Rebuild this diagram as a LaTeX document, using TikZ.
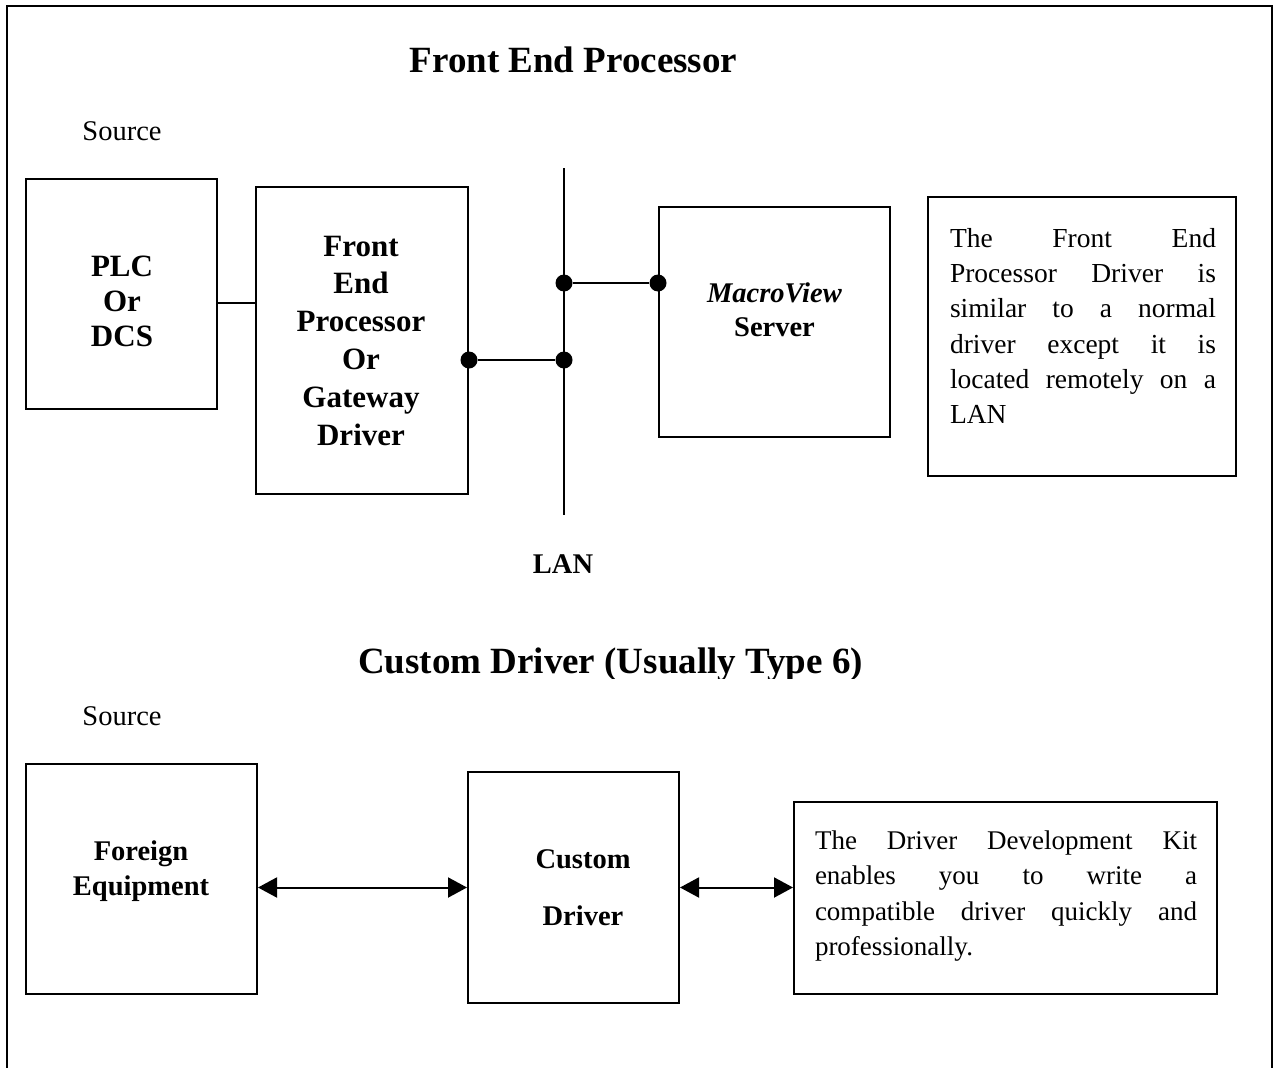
\documentclass[tikz,border=0pt]{standalone}
\usepackage{fontspec}
\setmainfont{Liberation Serif}
\usetikzlibrary{arrows.meta}

% a full-width line whose words are spread out to both edges
\newcommand{\spreadline}[2]{\leavevmode\hbox to #1{#2}}

\begin{document}
\begin{tikzpicture}[x=1pt,y=-1pt,
  box/.style={draw, line width=2pt, rectangle, inner sep=0pt},
  wire/.style={line width=2pt},
  dot/.style={circle, fill, inner sep=0pt, minimum size=17pt},
  both/.style={wire, {Triangle[length=19pt,width=20pt]}-{Triangle[length=19pt,width=20pt]}},
  heading/.style={font=\fontsize{37}{44}\selectfont\bfseries, inner sep=0pt, anchor=base},
  caption/.style={font=\fontsize{28.5}{35}\selectfont, inner sep=0pt, anchor=base},
  boxtext/.style={font=\fontsize{31}{34.5}\selectfont\bfseries, inner sep=0pt, align=center},
  boxtextsmall/.style={font=\fontsize{28.5}{35}\selectfont\bfseries, inner sep=0pt, align=center},
  notetext/.style={font=\fontsize{27.5}{35.2}\selectfont, inner sep=0pt, align=left}
]
\useasboundingbox (0,0) rectangle (1275,1068);

% outer frame, open at the bottom
\draw[wire] (7,1068) -- (7,6) -- (1272,6) -- (1272,1068);

% ---------- Front End Processor ----------
\node[heading] (title1) at (573.5,72) {Front End Processor};
\node[caption] (src1) at (122,140.5) {Source};

\node[box, minimum width=191pt, minimum height=230pt] (plc) at (121.5,294) {};
\node[boxtext, font=\fontsize{31}{35}\selectfont\bfseries] (plctext) at (122,301) {PLC\\Or\\DCS};

\node[box, minimum width=212pt, minimum height=307pt] (fep) at (362,340.5) {};
\node[boxtext, font=\fontsize{31}{37.8}\selectfont\bfseries] (feptext) at (361,340.5)
  {Front\\End\\Processor\\Or\\Gateway\\Driver};

\node[box, minimum width=231pt, minimum height=230pt] (server) at (774.5,322) {};
\node[boxtextsmall, font=\fontsize{28.5}{34}\selectfont\bfseries] (servertext) at (774.5,310)
  {\textit{MacroView}\\Server};

\node[box, minimum width=308pt, minimum height=279pt] (note1) at (1082,336.5) {};
\node[notetext, text width=266pt] (note1text) at (1083,326) {%
  \spreadline{266pt}{The\hfill Front\hfill End}\\
  \spreadline{266pt}{Processor\hfill Driver\hfill is}\\
  \spreadline{266pt}{similar\hfill to\hfill a\hfill normal}\\
  \spreadline{266pt}{driver\hfill except\hfill it\hfill is}\\
  \spreadline{266pt}{located\hfill remotely\hfill on\hfill a}\\
  LAN};

% LAN bus
\coordinate (lantop) at (564,168);
\coordinate (lanbot) at (564,515);
\draw[wire] (lantop) -- (lanbot);
\node[caption, font=\fontsize{28.5}{35}\selectfont\bfseries] (lanlabel) at (563,573) {LAN};

\draw[wire] (plc.east |- 0,302.5) -- (fep.west |- 0,302.5);

\node[dot] (d1) at (fep.east |- 0,360) {};
\node[dot] (d2) at (lantop |- d1) {};
\node[dot] (d3) at (lantop |- 0,283) {};
\node[dot] (d4) at (server.west |- d3) {};
\draw[wire] (d1) -- (d2);
\draw[wire] (d3) -- (d4);

% ---------- Custom Driver ----------
\begin{scope}
  \clip (0,0) rectangle (1275,678);
  \node[heading] (title2) at (610.5,673) {Custom Driver (Usually Type 6)};
\end{scope}
\node[caption] (src2) at (122,725.5) {Source};

\node[box, minimum width=231pt, minimum height=230pt] (foreign) at (141.5,879) {};
\node[boxtextsmall] (foreigntext) at (141,871.5) {Foreign\\Equipment};

\node[box, minimum width=211pt, minimum height=231pt] (custom) at (573.5,887.5) {};
\node[boxtextsmall, font=\fontsize{28.5}{57}\selectfont\bfseries] (customtext) at (583,887.5)
  {Custom\\Driver};

\node[box, minimum width=423pt, minimum height=192pt] (note2) at (1005.5,898) {};
\node[notetext, text width=382pt, font=\fontsize{27}{35.3}\selectfont] (note2text) at (1006,896) {%
  \spreadline{382pt}{The\hfill Driver\hfill Development\hfill Kit}\\
  \spreadline{382pt}{enables\hfill you\hfill to\hfill write\hfill a}\\
  \spreadline{382pt}{compatible\hfill driver\hfill quickly\hfill and}\\
  professionally.};

\draw[both] (foreign.east |- custom.center) -- (custom.west);
\draw[both] (custom.east) -- (custom.east -| note2.west);
\end{tikzpicture}
\end{document}
